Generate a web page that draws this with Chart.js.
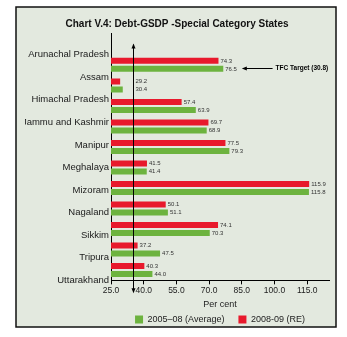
<!DOCTYPE html>
<html>
<head>
<meta charset="utf-8">
<script src="https://cdn.jsdelivr.net/npm/chart.js@4"></script>
<style>
  html, body { margin: 0; padding: 0; background: #fff; }
  canvas { display: block; }
</style>
</head>
<body>
<canvas id="myCanvas" width="347" height="337"></canvas>
<script>
// Debt to GSDP ratio, special category states
const states = ['Arunachal Pradesh', 'Assam', 'Himachal Pradesh', 'Jammu and Kashmir', 'Manipur',
                'Meghalaya', 'Mizoram', 'Nagaland', 'Sikkim', 'Tripura', 'Uttarakhand'];
const debtRE = [74.3, 29.2, 57.4, 69.7, 77.5, 41.5, 115.9, 50.1, 74.1, 37.2, 40.3];   // 2008-09 (RE)
const debtAvg = [76.5, 30.4, 63.9, 68.9, 79.3, 41.4, 115.8, 51.1, 70.3, 47.5, 44.0];  // 2005-08 (Average)
const xTicks = [25, 40, 55, 70, 85, 100, 115];
const xMin = 25, xMax = 125;
const targetAt = 35;
const targetNote = 'TFC Target (30.8)';

const RED = '#e8192c', GREEN = '#6db33f';

// panel background + frame
const framePlugin = {
    id: 'frame',
    beforeDraw(chart) {
        const ctx = chart.ctx;
        ctx.save();
        ctx.fillStyle = '#fff';
        ctx.fillRect(0, 0, chart.width, chart.height);
        ctx.fillStyle = '#e3e9df';
        ctx.fillRect(16, 7, 320, 320);
        ctx.strokeStyle = '#111';
        ctx.lineWidth = 1.5;
        ctx.strokeRect(16, 7, 320, 320);
        ctx.restore();
    }
};

function arrowHead(ctx, x, y, dir) {
    // dir: 'up', 'down', 'left'
    ctx.beginPath();
    if (dir === 'up') { ctx.moveTo(x, y); ctx.lineTo(x - 2, y + 5); ctx.lineTo(x + 2, y + 5); }
    if (dir === 'down') { ctx.moveTo(x, y); ctx.lineTo(x - 2, y - 5); ctx.lineTo(x + 2, y - 5); }
    if (dir === 'left') { ctx.moveTo(x, y); ctx.lineTo(x + 5, y - 2); ctx.lineTo(x + 5, y + 2); }
    ctx.closePath();
    ctx.fill();
}

const extrasPlugin = {
    id: 'extras',
    afterDatasetsDraw(chart) {
        const ctx = chart.ctx;
        const xs = chart.scales.x;
        const area = chart.chartArea;
        ctx.save();
        ctx.strokeStyle = '#000';
        ctx.fillStyle = '#000';
        ctx.lineWidth = 1;

        // y axis runs up above the first category
        ctx.beginPath();
        ctx.moveTo(Math.round(area.left) + 0.5, 33);
        ctx.lineTo(Math.round(area.left) + 0.5, area.top);
        ctx.stroke();

        // target line
        const tx = Math.round(xs.getPixelForValue(targetAt)) + 0.5;
        ctx.beginPath();
        ctx.moveTo(tx, area.top - 10);
        ctx.lineTo(tx, area.bottom + 11);
        ctx.stroke();
        arrowHead(ctx, tx, area.top - 11, 'up');
        arrowHead(ctx, tx, area.bottom + 13, 'down');

        // value labels
        ctx.font = '6px "Liberation Sans Narrow", "Liberation Sans", Arial, sans-serif';
        ctx.fillStyle = '#333';
        ctx.textBaseline = 'middle';
        ctx.textAlign = 'left';
        chart.data.datasets.forEach((ds, i) => {
            chart.getDatasetMeta(i).data.forEach((bar, j) => {
                const x = Math.max(bar.x, tx) + 2;
                ctx.fillText(ds.data[j].toFixed(1), x, bar.y);
            });
        });

        // note pointing back to the target
        const noteBar = chart.getDatasetMeta(1).data[0];
        const ny = Math.round(noteBar.y) - 0.5;
        const ax = xs.getPixelForValue(85), nx = xs.getPixelForValue(100.5);
        ctx.fillStyle = '#000';
        ctx.beginPath();
        ctx.moveTo(ax + 4, ny);
        ctx.lineTo(nx - 3, ny);
        ctx.stroke();
        arrowHead(ctx, ax, ny, 'left');
        ctx.font = 'bold 6.5px "Liberation Sans", Arial, sans-serif';
        ctx.fillText(targetNote, nx, ny);
        ctx.restore();
    }
};

const ctx = document.getElementById('myCanvas').getContext('2d');
new Chart(ctx, {
    type: 'bar',
    data: {
        labels: states,
        datasets: [
            { label: '2008-09 (RE)', data: debtRE, backgroundColor: RED, yAxisID: 'y', xAxisID: 'x' },
            { label: '2005\u201308 (Average)', data: debtAvg, backgroundColor: GREEN, yAxisID: 'y', xAxisID: 'x' }
        ]
    },
    options: {
        indexAxis: 'y',
        responsive: false,
        animation: false,
        events: [],
        categoryPercentage: 0.78,
        barPercentage: 0.75,
        layout: { padding: { left: 25, right: 18, top: 8, bottom: 3 } },
        font: { family: '"Liberation Sans", Arial, sans-serif' },
        scales: {
            x: {
                type: 'linear',
                min: xMin,
                max: xMax,
                afterBuildTicks: s => { s.ticks = xTicks.map(v => ({ value: v })); },
                ticks: {
                    callback: v => v.toFixed(1),
                    font: { size: 8.5 },
                    color: '#222',
                    padding: 1,
                    maxRotation: 0,
                    autoSkip: false
                },
                grid: { drawOnChartArea: false, drawTicks: true, tickLength: 4, color: '#000' },
                border: { color: '#000', width: 1 },
                title: {
                    display: true,
                    text: 'Per cent',
                    font: { size: 9 },
                    color: '#222',
                    padding: { top: 2.8, bottom: -9.15 }
                }
            },
            y: { type: 'category', display: false, offset: true },
            yl: {
                type: 'category',
                position: 'left',
                offset: false,
                grid: { display: false, drawTicks: false },
                border: { display: true, color: '#000', width: 1 },
                ticks: { font: { size: 9.5 }, color: '#1a1a1a', padding: 2, autoSkip: false },
                afterFit: s => { s.width = 86; }
            }
        },
        plugins: {
            title: {
                display: true,
                text: 'Chart V.4: Debt-GSDP -Special Category States',
                font: { size: 10, weight: 'bold' },
                color: '#111',
                padding: { top: 10.3, bottom: 24.3 }
            },
            legend: {
                position: 'bottom',
                fullSize: false,
                reverse: true,
                labels: { boxWidth: 8, boxHeight: 8, padding: 14, font: { size: 9 }, color: '#222' }
            },
            tooltip: { enabled: false }
        }
    },
    plugins: [framePlugin, extrasPlugin]
});
</script>
</body>
</html>
